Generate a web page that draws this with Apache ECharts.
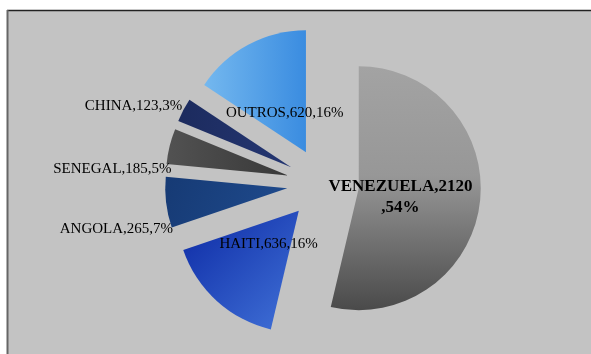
<!DOCTYPE html>
<html>
<head>
<meta charset="utf-8">
<script src="https://cdn.jsdelivr.net/npm/echarts@6/dist/echarts.min.js"></script>
<style>
  html, body { margin: 0; padding: 0; background: #ffffff; }
  #chart { width: 591px; height: 354px; }
</style>
</head>
<body>
<div id="chart"></div>
<script>
// Origin of arrivals (persons) by country
const countries = ['VENEZUELA', 'HAITI', 'ANGOLA', 'SENEGAL', 'CHINA', 'OUTROS'];
const people = [2120, 636, 265, 185, 123, 620];

const total = people.reduce((a, b) => a + b, 0);

const G = echarts.graphic.LinearGradient;
const fills = [
  new G(0, 0, 0, 1, [{ offset: 0, color: '#a3a3a3' }, { offset: 0.45, color: '#979797' }, { offset: 1, color: '#4a4a4a' }]),
  new G(0, 0, 1, 1, [{ offset: 0, color: '#0c29a4' }, { offset: 1, color: '#4172d8' }]),
  new G(0, 0, 1, 1, [{ offset: 0, color: '#163a74' }, { offset: 1, color: '#1f4b8e' }]),
  new G(0, 0, 1, 0, [{ offset: 0, color: '#525252' }, { offset: 1, color: '#383838' }]),
  new G(0, 0, 1, 0, [{ offset: 0, color: '#1c2b5e' }, { offset: 1, color: '#243672' }]),
  new G(0, 0, 1, 0, [{ offset: 0, color: '#74b8ef' }, { offset: 1, color: '#3a8ce0' }])
];

// slices whose label sits inside the sector; the rest are labelled outside
const insideLabel = [true, true, false, false, false, true];

// inside labels sit closer to the tip than the default half radius
const insidePull = 19;
// small hand nudges for labels [dx, dy]
const labelNudge = { 0: [-3, 4], 2: [12, 27], 3: [7, 23], 4: [4, -4] };

const serif = 'Liberation Serif';

// mid angle of each slice, clockwise from 12 o'clock
const midAngles = [];
{
  let acc = 0;
  people.forEach(v => {
    midAngles.push((acc + v / 2) / total * 2 * Math.PI);
    acc += v;
  });
}

const pieData = countries.map((name, i) => {
  const item = {
    name: name,
    value: people[i],
    selected: true,
    itemStyle: { color: fills[i] },
    label: insideLabel[i]
      ? { position: 'inside' }
      : { position: 'outside', align: 'right' }
  };
  if (i === 0) {
    item.label.fontSize = 17;
    item.label.fontWeight = 'bold';
    item.label.lineHeight = 21;
  }
  return item;
});

const chart = echarts.init(document.getElementById('chart'), null, { renderer: 'canvas' });
chart.setOption({
  backgroundColor: '#ffffff',
  animation: false,
  graphic: [
    { type: 'rect', shape: { x: 7, y: 10, width: 700, height: 500 }, style: { fill: '#c3c3c3' }, silent: true, z: -10 },
    { type: 'line', shape: { x1: 7, y1: 10.5, x2: 600, y2: 10.5 }, style: { stroke: '#222', lineWidth: 1.5 }, silent: true, z: -9 },
    { type: 'line', shape: { x1: 7.5, y1: 10, x2: 7.5, y2: 400 }, style: { stroke: '#666', lineWidth: 2 }, silent: true, z: -9 }
  ],
  series: [{
    type: 'pie',
    center: [323, 184],
    radius: 122,
    startAngle: 90,
    clockwise: true,
    selectedMode: 'multiple',
    selectedOffset: 36,
    avoidLabelOverlap: false,
    select: { itemStyle: { borderWidth: 0 } },
    label: {
      show: true,
      fontFamily: serif,
      fontSize: 15,
      color: '#000',
      formatter: p => {
        const pct = Math.round(p.value / total * 100);
        return p.dataIndex === 0
          ? p.name + ',' + p.value + '\n,' + pct + '%'
          : p.name + ',' + p.value + ',' + pct + '%';
      }
    },
    labelLine: { show: false, length: 0, length2: 0 },
    labelLayout: params => {
      const i = params.dataIndex;
      const n = labelNudge[i] || [0, 0];
      let dx = n[0], dy = n[1];
      if (insideLabel[i]) {
        const a = midAngles[i];
        dx += -insidePull * Math.sin(a);
        dy += insidePull * Math.cos(a);
      }
      return { dx: dx, dy: dy };
    },
    data: pieData
  }]
});
</script>
</body>
</html>
